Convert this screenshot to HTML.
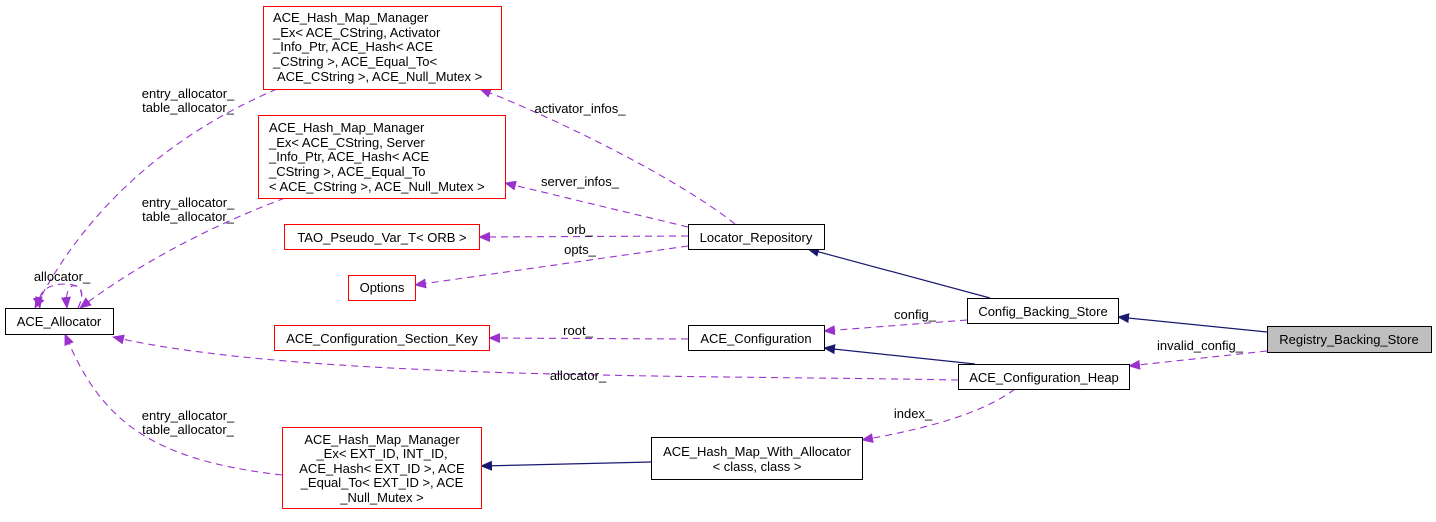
<!DOCTYPE html>
<html><head><meta charset="utf-8"><style>
body{margin:0;background:#fff}
svg text{font-family:"Liberation Sans",sans-serif;font-size:13px;fill:#000}
</style></head><body>
<svg width="1436" height="517" viewBox="0 0 1436 517" xmlns="http://www.w3.org/2000/svg">
<defs>
<marker id="p" markerWidth="12" markerHeight="10" refX="11" refY="5" orient="auto" markerUnits="userSpaceOnUse"><path d="M0,0 L12,5 L0,10z" fill="#9a32cd"/></marker>
<marker id="n" markerWidth="12" markerHeight="10" refX="11" refY="5" orient="auto" markerUnits="userSpaceOnUse"><path d="M0,0 L12,5 L0,10z" fill="#191970"/></marker>
</defs>
<g fill="none" stroke="#9a32cd" stroke-dasharray="7,5" stroke-width="1.1" marker-end="url(#p)">
<path d="M1267,351 L1129,366"/>
<path d="M967,320 L824,331"/>
<path d="M958,380 C700,375 300,380 113,337"/>
<path d="M1015,389 C980,415 920,430 862,440"/>
<path d="M688,339 L489,338"/>
<path d="M735,224 C680,180 560,120 480,89"/>
<path d="M688,227 L505,183"/>
<path d="M688,236 L479,237"/>
<path d="M688,246 L415,285"/>
<path d="M277,89 C180,130 90,200 35,308"/>
<path d="M285,198 C200,230 130,270 80,308"/>
<path d="M282,475 C150,460 100,420 65,334"/>
<path d="M78,308 C86,292 80,284 66,284 C50,284 36,290 40,308"/>
<path d="M78,308 C86,292 80,284 72,286 C66,290 66,298 67,308"/>
</g>
<g fill="none" stroke="#191970" stroke-width="1.2" marker-end="url(#n)">
<path d="M1267,332 L1118,317"/>
<path d="M990,298 L808,249"/>
<path d="M975,364 L824,348"/>
<path d="M651,462 L481,466"/>
</g>
<g stroke="#ff0000" fill="#fff">
<rect x="263.5" y="6.5" width="238" height="83"/>
<rect x="258.5" y="115.5" width="247" height="83"/>
<rect x="284.5" y="224.5" width="195" height="25"/>
<rect x="348.5" y="275.5" width="67" height="25"/>
<rect x="274.5" y="325.5" width="215" height="25"/>
<rect x="282.5" y="427.5" width="199" height="81"/>
</g>
<g stroke="#000" fill="#fff">
<rect x="5.5" y="308.5" width="108" height="26"/>
<rect x="688.5" y="224.5" width="136" height="25"/>
<rect x="688.5" y="325.5" width="136" height="25"/>
<rect x="967.5" y="298.5" width="151" height="25"/>
<rect x="958.5" y="364.5" width="171" height="25"/>
<rect x="651.5" y="437.5" width="211" height="42"/>
<rect x="1267.5" y="326.5" width="164" height="26" fill="#bfbfbf"/>
</g>
<text x="273" y="22">ACE_Hash_Map_Manager</text>
<text x="273" y="37">_Ex&lt; ACE_CString, Activator</text>
<text x="273" y="51">_Info_Ptr, ACE_Hash&lt; ACE</text>
<text x="273" y="66">_CString &gt;, ACE_Equal_To&lt;</text>
<text x="277" y="81">ACE_CString &gt;, ACE_Null_Mutex &gt;</text>
<text x="269" y="132">ACE_Hash_Map_Manager</text>
<text x="269" y="147">_Ex&lt; ACE_CString, Server</text>
<text x="269" y="161">_Info_Ptr, ACE_Hash&lt; ACE</text>
<text x="269" y="176">_CString &gt;, ACE_Equal_To</text>
<text x="269" y="191">&lt; ACE_CString &gt;, ACE_Null_Mutex &gt;</text>
<text x="382" y="242" text-anchor="middle">TAO_Pseudo_Var_T&lt; ORB &gt;</text>
<text x="382" y="292" text-anchor="middle">Options</text>
<text x="382" y="343" text-anchor="middle">ACE_Configuration_Section_Key</text>
<text x="382" y="444" text-anchor="middle">ACE_Hash_Map_Manager</text>
<text x="382" y="458" text-anchor="middle">_Ex&lt; EXT_ID, INT_ID,</text>
<text x="382" y="473" text-anchor="middle">ACE_Hash&lt; EXT_ID &gt;, ACE</text>
<text x="382" y="487" text-anchor="middle">_Equal_To&lt; EXT_ID &gt;, ACE</text>
<text x="382" y="502" text-anchor="middle">_Null_Mutex &gt;</text>
<text x="59" y="326" text-anchor="middle">ACE_Allocator</text>
<text x="756" y="242" text-anchor="middle">Locator_Repository</text>
<text x="756" y="343" text-anchor="middle">ACE_Configuration</text>
<text x="1043" y="316" text-anchor="middle">Config_Backing_Store</text>
<text x="1044" y="382" text-anchor="middle">ACE_Configuration_Heap</text>
<text x="757" y="456" text-anchor="middle">ACE_Hash_Map_With_Allocator</text>
<text x="757" y="471" text-anchor="middle">&lt; class, class &gt;</text>
<text x="1349" y="344" text-anchor="middle">Registry_Backing_Store</text>
<text x="188" y="98" text-anchor="middle">entry_allocator_</text>
<text x="188" y="112" text-anchor="middle">table_allocator_</text>
<text x="188" y="207" text-anchor="middle">entry_allocator_</text>
<text x="188" y="221" text-anchor="middle">table_allocator_</text>
<text x="188" y="420" text-anchor="middle">entry_allocator_</text>
<text x="188" y="434" text-anchor="middle">table_allocator_</text>
<text x="62" y="281" text-anchor="middle">allocator_</text>
<text x="580" y="113" text-anchor="middle">activator_infos_</text>
<text x="580" y="186" text-anchor="middle">server_infos_</text>
<text x="580" y="234" text-anchor="middle">orb_</text>
<text x="580" y="254" text-anchor="middle">opts_</text>
<text x="578" y="335" text-anchor="middle">root_</text>
<text x="578" y="380" text-anchor="middle">allocator_</text>
<text x="915" y="319" text-anchor="middle">config_</text>
<text x="913" y="418" text-anchor="middle">index_</text>
<text x="1200" y="350" text-anchor="middle">invalid_config_</text>
</svg>
</body></html>
